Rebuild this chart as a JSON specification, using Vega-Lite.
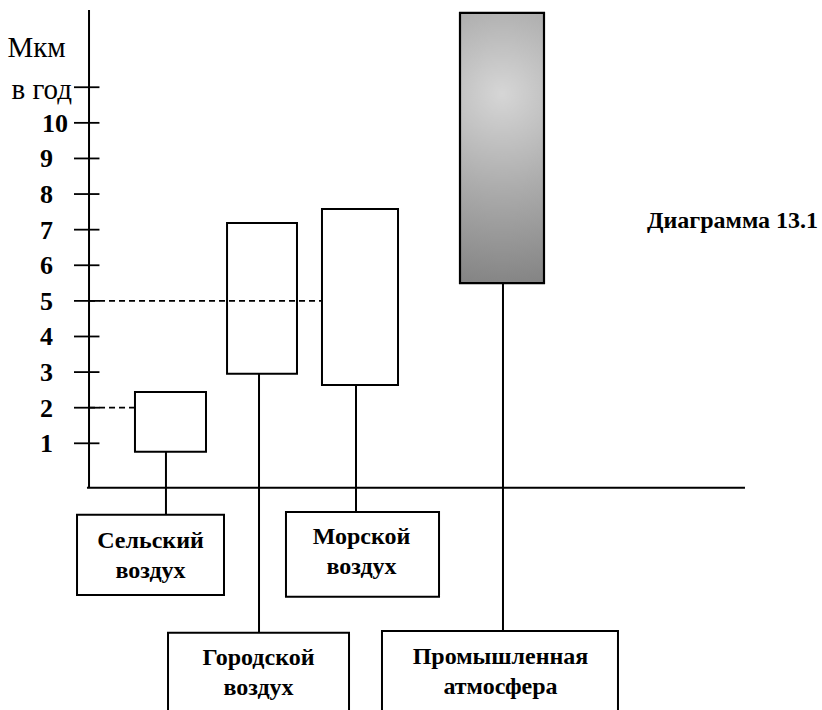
{
  "$schema": "https://vega.github.io/schema/vega-lite/v6.json",
  "width": 822,
  "height": 710,
  "padding": 0,
  "autosize": {"type": "none"},
  "background": "white",
  "config": {"view": {"stroke": null}},
  "datasets": {
    "items": [
      {"name": "Сельский воздух", "bx1": 16.42, "bx2": 25.06, "lo": 0.76, "hi": 2.44, "wx": 20.19, "lbx1": 9.37, "lbx2": 27.25, "lbtop": -1.01, "lbbot": -3.26, "label": "Сельский\nвоздух", "tx": 18.31, "ty": -1.94},
      {"name": "Городской воздух", "bx1": 27.62, "bx2": 36.13, "lo": 2.95, "hi": 7.19, "wx": 31.51, "lbx1": 20.44, "lbx2": 42.46, "lbtop": -4.32, "lbbot": -7.2, "label": "Городской\nвоздух", "tx": 31.45, "ty": -5.22},
      {"name": "Морской воздух", "bx1": 39.17, "bx2": 48.42, "lo": 2.64, "hi": 7.58, "wx": 43.31, "lbx1": 34.79, "lbx2": 53.41, "lbtop": -0.93, "lbbot": -3.31, "label": "Морской\nвоздух", "tx": 43.98, "ty": -1.83},
      {"name": "Промышленная атмосфера", "bx1": 55.96, "bx2": 66.18, "lo": 5.5, "hi": 13.09, "wx": 61.19, "lbx1": 46.47, "lbx2": 75.18, "lbtop": -4.27, "lbbot": -7.2, "label": "Промышленная\nатмосфера", "tx": 60.89, "ty": -5.2}
    ],
    "ticks": [
      {"v": 1, "label": "1"}, {"v": 2, "label": "2"}, {"v": 3, "label": "3"},
      {"v": 4, "label": "4"}, {"v": 5, "label": "5"}, {"v": 6, "label": "6"},
      {"v": 7, "label": "7"}, {"v": 8, "label": "8"}, {"v": 9, "label": "9"},
      {"v": 10, "label": "10"}, {"v": 11, "label": "в год"}
    ],
    "guides": [
      {"v": 5, "from": 10.83, "to": 39.17},
      {"v": 2, "from": 10.83, "to": 16.42}
    ]
  },
  "layer": [
    {
      "data": {"values": [{"a": 1}]},
      "mark": {"type": "rule", "stroke": "black", "strokeWidth": 2},
      "encoding": {
        "x": {"datum": 10.83, "type": "quantitative", "scale": {"domain": [0, 100], "nice": false, "zero": false}, "axis": null},
        "y": {"datum": -0.25, "type": "quantitative", "scale": {"domain": [-6.49, 13.45], "nice": false, "zero": false}, "axis": null},
        "y2": {"datum": 13.17}
      }
    },
    {
      "data": {"values": [{"a": 1}]},
      "mark": {"type": "rule", "stroke": "black", "strokeWidth": 2},
      "encoding": {
        "x": {"datum": 10.58, "type": "quantitative"},
        "x2": {"datum": 90.63},
        "y": {"datum": -0.25, "type": "quantitative"}
      }
    },
    {
      "data": {"name": "ticks"},
      "mark": {"type": "rule", "stroke": "black", "strokeWidth": 1.8},
      "encoding": {
        "x": {"datum": 9.0, "type": "quantitative"},
        "x2": {"datum": 12.1},
        "y": {"field": "v", "type": "quantitative"}
      }
    },
    {
      "data": {"name": "items"},
      "mark": {"type": "rule", "stroke": "black", "strokeWidth": 2},
      "encoding": {
        "x": {"field": "wx", "type": "quantitative"},
        "y": {"field": "lo", "type": "quantitative"},
        "y2": {"field": "lbtop"}
      }
    },
    {
      "data": {"name": "items"},
      "transform": [{"filter": "datum.name !== 'Промышленная атмосфера'"}],
      "mark": {"type": "rect", "fill": "white", "stroke": "black", "strokeWidth": 2},
      "encoding": {
        "x": {"field": "bx1", "type": "quantitative"},
        "x2": {"field": "bx2"},
        "y": {"field": "lo", "type": "quantitative"},
        "y2": {"field": "hi"}
      }
    },
    {
      "data": {"name": "guides"},
      "mark": {"type": "rule", "stroke": "black", "strokeWidth": 1.8, "strokeDash": [6, 4]},
      "encoding": {
        "x": {"field": "from", "type": "quantitative"},
        "x2": {"field": "to"},
        "y": {"field": "v", "type": "quantitative"}
      }
    },
    {
      "data": {"name": "items"},
      "transform": [{"filter": "datum.name === 'Промышленная атмосфера'"}],
      "mark": {
        "type": "rect",
        "stroke": "black",
        "strokeWidth": 2.2,
        "fill": {
          "gradient": "radial",
          "x1": 0.5, "y1": 0.3, "r1": 0,
          "x2": 0.5, "y2": 0.3, "r2": 0.8,
          "stops": [
            {"offset": 0, "color": "#d6d6d6"},
            {"offset": 0.45, "color": "#ababab"},
            {"offset": 1, "color": "#7a7a7a"}
          ]
        }
      },
      "encoding": {
        "x": {"field": "bx1", "type": "quantitative"},
        "x2": {"field": "bx2"},
        "y": {"field": "lo", "type": "quantitative"},
        "y2": {"field": "hi"}
      }
    },
    {
      "data": {"name": "items"},
      "mark": {"type": "rect", "fill": "white", "stroke": "black", "strokeWidth": 2, "clip": true},
      "encoding": {
        "x": {"field": "lbx1", "type": "quantitative"},
        "x2": {"field": "lbx2"},
        "y": {"field": "lbtop", "type": "quantitative"},
        "y2": {"field": "lbbot"}
      }
    },
    {
      "data": {"name": "items"},
      "mark": {"type": "text", "font": "Liberation Serif", "fontWeight": "bold", "fontSize": 24, "lineBreak": "\n", "lineHeight": 30, "align": "center", "baseline": "alphabetic", "color": "black"},
      "encoding": {
        "x": {"field": "tx", "type": "quantitative"},
        "y": {"field": "ty", "type": "quantitative"},
        "text": {"field": "label", "type": "nominal"}
      }
    },
    {
      "data": {"name": "ticks"},
      "transform": [{"filter": "datum.v < 10"}],
      "mark": {"type": "text", "font": "Liberation Serif", "fontWeight": "bold", "fontSize": 26, "align": "right", "baseline": "middle", "color": "black", "dy": 1},
      "encoding": {
        "x": {"datum": 6.45, "type": "quantitative"},
        "y": {"field": "v", "type": "quantitative"},
        "text": {"field": "label", "type": "nominal"}
      }
    },
    {
      "data": {"name": "ticks"},
      "transform": [{"filter": "datum.v === 10"}],
      "mark": {"type": "text", "font": "Liberation Serif", "fontWeight": "bold", "fontSize": 26, "align": "right", "baseline": "middle", "color": "black", "dy": 1},
      "encoding": {
        "x": {"datum": 8.27, "type": "quantitative"},
        "y": {"field": "v", "type": "quantitative"},
        "text": {"field": "label", "type": "nominal"}
      }
    },
    {
      "data": {"name": "ticks"},
      "transform": [{"filter": "datum.v === 11"}],
      "mark": {"type": "text", "font": "Liberation Serif", "fontSize": 29, "align": "right", "baseline": "middle", "color": "black", "dy": 3},
      "encoding": {
        "x": {"datum": 8.76, "type": "quantitative"},
        "y": {"field": "v", "type": "quantitative"},
        "text": {"field": "label", "type": "nominal"}
      }
    },
    {
      "data": {"values": [{"a": 1}]},
      "mark": {"type": "text", "font": "Liberation Serif", "fontSize": 29, "align": "left", "baseline": "middle", "color": "black"},
      "encoding": {
        "x": {"datum": 0.9, "type": "quantitative"},
        "y": {"datum": 12.1, "type": "quantitative"},
        "text": {"value": "Мкм"}
      }
    },
    {
      "data": {"values": [{"a": 1}]},
      "mark": {"type": "text", "font": "Liberation Serif", "fontWeight": "bold", "fontSize": 24, "align": "left", "baseline": "alphabetic", "color": "black"},
      "encoding": {
        "x": {"datum": 78.71, "type": "quantitative"},
        "y": {"datum": 7.05, "type": "quantitative"},
        "text": {"value": "Диаграмма 13.1"}
      }
    }
  ]
}
